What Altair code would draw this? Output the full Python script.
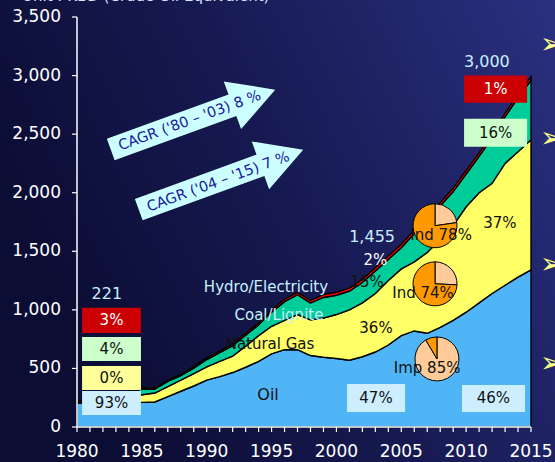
import altair as alt
import pandas as pd

years = list(range(1980, 2016))
oil = [205, 206, 207, 208, 209, 210, 214, 260, 305, 350, 400, 430, 465, 510, 560, 625, 660, 660,
       610, 595, 585, 570, 600, 640, 700, 780, 820, 800, 850, 910, 980, 1060, 1140, 1210, 1280, 1342]
gas = [2, 6, 15, 32, 49, 65, 76, 85, 95, 105, 113, 130, 140, 180, 220, 235, 250, 300,
       305, 335, 375, 430, 460, 500, 550, 570, 590, 690, 750, 810, 900, 940, 940, 1040, 1070, 1111]
coal = [8, 16, 25, 32, 38, 48, 33, 44, 38, 47, 63, 75, 89, 93, 92, 121, 160, 169,
        143, 176, 165, 159, 173, 192, 181, 181, 241, 271, 286, 290, 280, 310, 390, 400, 460, 507]
hydro = [6, 7, 8, 8, 9, 10, 10, 11, 12, 13, 14, 15, 16, 17, 18, 19, 20, 21,
         22, 24, 25, 26, 27, 28, 29, 29, 29, 29, 29, 30, 30, 30, 30, 30, 30, 30]

series_names = ["Oil", "Natural Gas", "Coal/Lignite", "Hydro/Electricity"]
series_colors = ["#4fb5f7", "#ffff66", "#00cc99", "#ff0000"]

y_ticks = [0, 500, 1000, 1500, 2000, 2500, 3000, 3500]
y_tick_labels = ["0", "500", "1,000", "1,500", "2,000", "2,500", "3,000", "3,500"]
x_label_years = [1980, 1985, 1990, 1995, 2000, 2005, 2010, 2015]

FONT = "DejaVu Sans"
W, H = 454, 410

rows = []
for i, y in enumerate(years):
    for k, (name, vals) in enumerate(zip(series_names, [oil, gas, coal, hydro])):
        rows.append({"year": y, "value": vals[i], "series": name, "ord": k})
df = pd.DataFrame(rows)

xs = alt.Scale(domain=[1980, 2015], nice=False, zero=False)
ys = alt.Scale(domain=[0, 3500], nice=False)


def X(f):
    return alt.X(f, scale=xs, axis=None)


def Y(f):
    return alt.Y(f, scale=ys, axis=None)


# background
bg = alt.Chart(pd.DataFrame({"a": [0]})).mark_rect(
    fill=alt.LinearGradient(
        gradient="linear", x1=0, y1=0.4, x2=1, y2=0,
        stops=[alt.GradientStop(color="#0b0d34", offset=0),
               alt.GradientStop(color="#171a52", offset=0.45),
               alt.GradientStop(color="#2b3080", offset=1)])
).encode(x=alt.value(-77), x2=alt.value(W + 24), y=alt.value(-17), y2=alt.value(H + 35))

area = alt.Chart(df).mark_area(stroke="black", strokeWidth=1.4, interpolate="linear").encode(
    x=X("year:Q"),
    y=alt.Y("value:Q", stack="zero", scale=ys, axis=None),
    color=alt.Color("series:N", scale=alt.Scale(domain=series_names, range=series_colors), legend=None),
    order=alt.Order("ord:Q"),
)

# axes drawn from the scales
xdom = alt.Chart(pd.DataFrame({"a": [1980], "b": [2015], "v": [0]})).mark_rule(
    color="white", strokeWidth=1.5).encode(x=X("a:Q"), x2="b:Q", y=Y("v:Q"))
ydom = alt.Chart(pd.DataFrame({"a": [1980], "v0": [0], "v1": [3500]})).mark_rule(
    color="white", strokeWidth=1.5).encode(x=X("a:Q"), y=Y("v0:Q"), y2="v1:Q")
xticks = alt.Chart(pd.DataFrame({"yr": years})).mark_rule(color="white", strokeWidth=1.2).encode(
    x=X("yr:Q"), y=alt.value(H), y2=alt.value(H + 5))
yticks = alt.Chart(pd.DataFrame({"v": y_ticks})).mark_rule(color="white", strokeWidth=1.2).encode(
    x=alt.value(-5), x2=alt.value(0), y=Y("v:Q"))
xlabels = alt.Chart(pd.DataFrame({"yr": x_label_years, "t": [str(v) for v in x_label_years]})).mark_text(
    font=FONT, fontSize=17, color="white", baseline="middle", align="center").encode(
    x=X("yr:Q"), y=alt.value(H + 25), text="t:N")
ylabels = alt.Chart(pd.DataFrame({"v": y_ticks, "t": y_tick_labels})).mark_text(
    font=FONT, fontSize=17, color="white", baseline="middle", align="right").encode(
    x=alt.value(-16), y=Y("v:Q"), text="t:N")

# label boxes
box_x0 = [1980.39, 1980.39, 1980.39, 1980.39, 2009.84, 2009.84, 2000.82, 2009.68]
box_x1 = [1984.93, 1984.93, 1984.93, 1984.93, 2014.70, 2014.70, 2005.29, 2014.54]
box_y0 = [803, 564, 316, 103, 2769, 2393, 128, 128]
box_y1 = [1017, 769, 521, 308, 3000, 2632, 368, 359]
box_fill = ["#cc0000", "#ccffcc", "#ffff99", "#cceeff", "#cc0000", "#ccffcc", "#cceeff", "#cceeff"]
boxes = alt.Chart(pd.DataFrame({"x0": box_x0, "x1": box_x1, "y0": box_y0, "y1": box_y1, "f": box_fill})).mark_rect().encode(
    x=X("x0:Q"), x2="x1:Q", y=Y("y0:Q"), y2="y1:Q",
    color=alt.Color("f:N", scale=None))

# pies
pie_x = [2007.6, 2007.6, 2007.6, 2007.6, 2007.75, 2007.75]
pie_y = [1718, 1718, 1222, 1222, 581, 581]
pie_a0 = [0.0, 0.227, 0.0, 0.257, 0.0, 0.915]
pie_a1 = [0.227, 1.0, 0.257, 1.0, 0.915, 1.0]
pie_fill = ["#ffcc99", "#ff9900", "#ffcc99", "#ff9900", "#ffcc99", "#ff9900"]
pies = alt.Chart(pd.DataFrame({"x": pie_x, "y": pie_y, "a0": pie_a0, "a1": pie_a1, "f": pie_fill})).transform_calculate(
    t0="datum.a0 * 2 * PI", t1="datum.a1 * 2 * PI"
).mark_arc(radius=22, stroke="black", strokeWidth=1).encode(
    x=X("x:Q"), y=Y("y:Q"),
    theta=alt.Theta("t0:Q", scale=None, stack=None), theta2="t1:Q",
    color=alt.Color("f:N", scale=None))

# arrows
arrow_x = [1988.94, 1991.10]
arrow_y = [2624, 2111]
arrow_path = "M-1,-0.13L0.48,-0.13L0.48,-0.29L1,0L0.48,0.29L0.48,0.13L-1,0.13Z"
arrows = alt.Chart(pd.DataFrame({"x": arrow_x, "y": arrow_y})).mark_point(
    shape=arrow_path, size=30625, filled=True, fill="#ccffff", opacity=1, strokeWidth=0, angle=340
).encode(x=X("x:Q"), y=Y("y:Q"))

arrow_text = ["CAGR ('80 \u2013 '03) 8 %", "CAGR ('04 \u2013 '15) 7 %"]
arrow_tx = [1988.70, 1990.90]
arrow_ty = [2612, 2090]
arrow_labels = alt.Chart(pd.DataFrame({"x": arrow_tx, "y": arrow_ty, "t": arrow_text})).mark_text(
    angle=340, font=FONT, fontSize=14.5, color="#1818a0", baseline="middle", align="center"
).encode(x=X("x:Q"), y=Y("y:Q"), text="t:N")

# annotation texts
ann_t = ["221", "3%", "4%", "0%", "93%", "3,000", "1%", "16%", "1,455", "2%", "15%", "36%", "37%",
         "47%", "46%", "Hydro/Electricity", "Coal/Lignite", "Natural Gas", "Oil",
         "Ind 78%", "Ind 74%", "Imp 85%"]
ann_x = [1982.3, 1982.66, 1982.66, 1982.66, 1982.66, 2011.6, 2012.27, 2012.27, 2002.75, 2003.0, 2002.36,
         2003.05, 2012.6, 2003.05, 2012.1, 1994.57, 1995.57, 1994.88, 1994.73, 2008.07, 2006.68, 2006.99]
ann_y = [1137, 910, 667, 419, 205, 3120, 2885, 2512, 1624, 1427, 1239, 846, 1744, 248, 244,
         1197, 957, 709, 274, 1641, 1145, 504]
ann_c = ["#c8f0ff", "#ffffff", "#111111", "#111111", "#111111", "#c8f0ff", "#ffffff", "#111111",
         "#c8f0ff", "#ffffff", "#111111", "#111111", "#111111", "#111111", "#111111",
         "#c8f0ff", "#c8f0ff", "#111111", "#111111", "#111111", "#111111", "#111111"]
ann_s = [16, 15, 15, 15, 15, 16, 15, 15, 16, 15, 15, 15, 15, 15, 15, 15, 15, 15, 16, 15, 15, 15]
ann = alt.Chart(pd.DataFrame({"x": ann_x, "y": ann_y, "t": ann_t, "c": ann_c, "s": ann_s})).mark_text(
    font=FONT, baseline="middle", align="center"
).encode(x=X("x:Q"), y=Y("y:Q"), text="t:N",
         color=alt.Color("c:N", scale=None), size=alt.Size("s:Q", scale=None))

# cut-off unit title at the top
unit = alt.Chart(pd.DataFrame({"x": [1975.76], "y": [3636], "t": ["Unit : KBD (Crude Oil Equivalent)"]})).mark_text(
    font=FONT, fontSize=15, color="#dde4ff", align="left", baseline="alphabetic"
).encode(x=X("x:Q"), y=Y("y:Q"), text="t:N")

# bullet marks at the right edge
bul_y = [3265, 2455, 1385, 535]
bullets = alt.Chart(pd.DataFrame({"x": [2016.6] * 4, "y": bul_y, "t": ["\u27a2"] * 4})).mark_text(
    font=FONT, fontSize=28, color="#ffff88", align="center", baseline="middle"
).encode(x=X("x:Q"), y=Y("y:Q"), text="t:N")

chart = alt.layer(bg, area, xdom, ydom, xticks, yticks, xlabels, ylabels, boxes, pies, arrows,
                  arrow_labels, ann, unit, bullets).properties(
    width=W, height=H,
    padding={"left": 77, "top": 17, "right": 24, "bottom": 35},
    autosize=alt.AutoSizeParams(type="none"),
    background="#171a52",
).configure_view(strokeWidth=0)

chart.save("out.html", embed_options={"renderer": "svg", "actions": False})
